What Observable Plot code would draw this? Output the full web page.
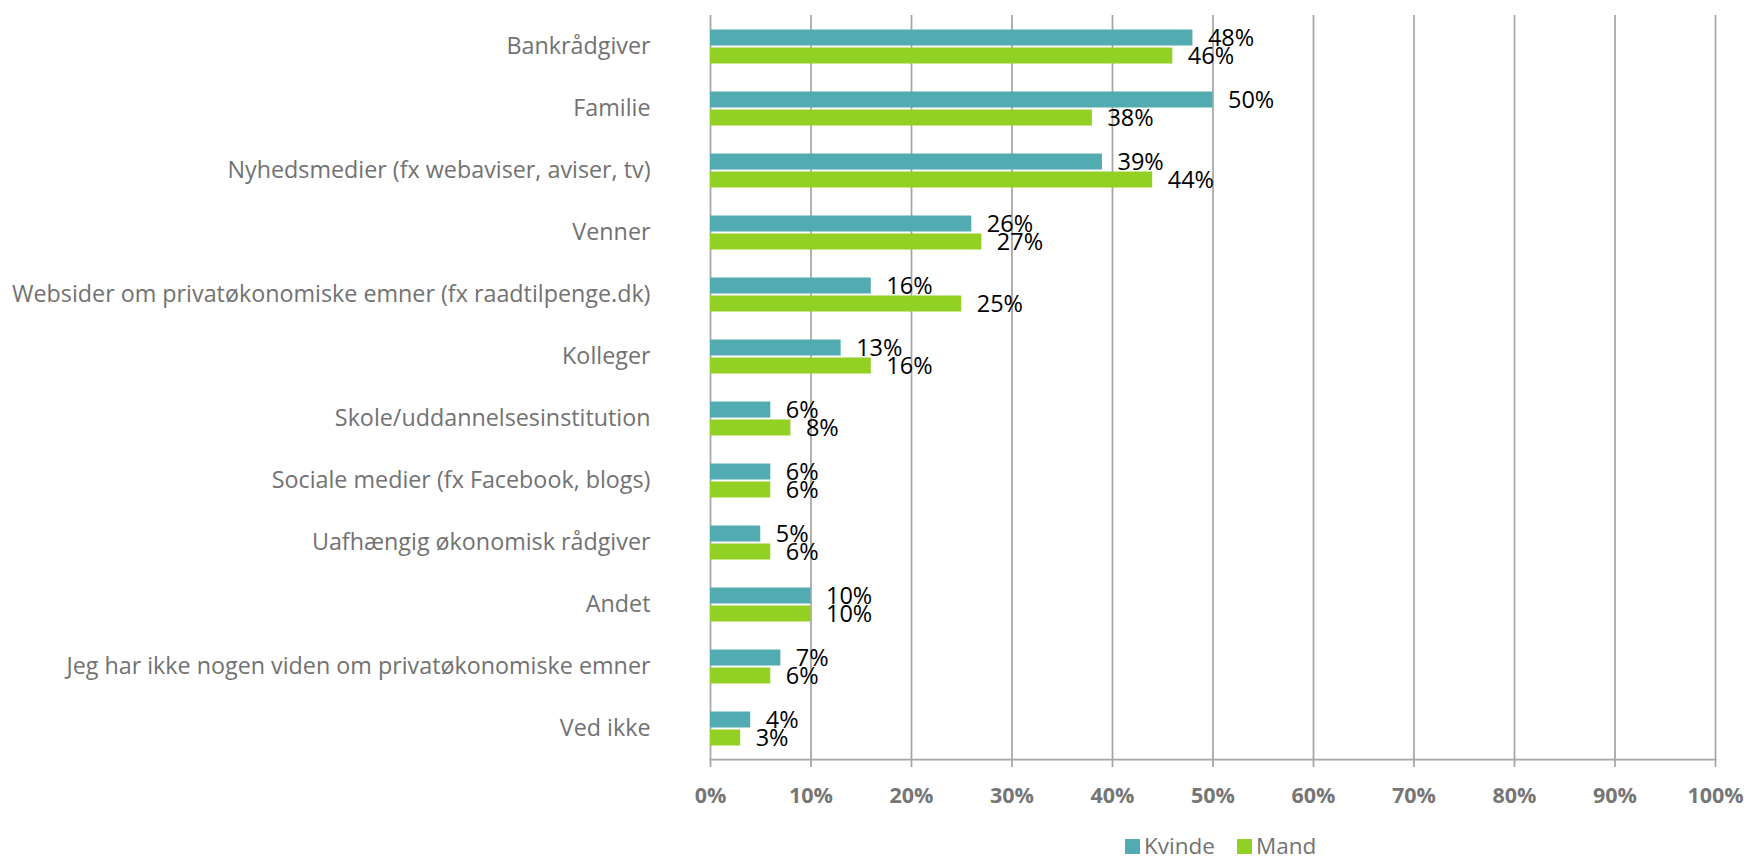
<!DOCTYPE html>
<html>
<head>
<meta charset="utf-8">
<script src="https://cdn.jsdelivr.net/npm/d3@7"></script>
<script src="https://cdn.jsdelivr.net/npm/@observablehq/plot@0.6"></script>
<style>
  body { margin: 0; background: #fff; font-family: "Open Sans", sans-serif; }
  #wrap { position: relative; width: 1749px; height: 861px; overflow: hidden; }
  #legend { position: absolute; left: 1125px; top: 836px; height: 20px; line-height: 20px; display: flex; align-items: center; font-size: 22.5px; color: #727272; }
  #legend .sw { width: 15px; height: 15px; display: inline-block; margin-right: 4px; }
  #legend .item { display: flex; align-items: center; margin-right: 22px; }
</style>
</head>
<body>
<div id="wrap"><div id="chart"></div><div id="legend"></div></div>
<script>
const categories = [
  "Bankrådgiver",
  "Familie",
  "Nyhedsmedier (fx webaviser, aviser, tv)",
  "Venner",
  "Websider om privatøkonomiske emner (fx raadtilpenge.dk)",
  "Kolleger",
  "Skole/uddannelsesinstitution",
  "Sociale medier (fx Facebook, blogs)",
  "Uafhængig økonomisk rådgiver",
  "Andet",
  "Jeg har ikke nogen viden om privatøkonomiske emner",
  "Ved ikke"
];
const kvinde = [48, 50, 39, 26, 16, 13, 6, 6, 5, 10, 7, 4];
const mand   = [46, 38, 44, 27, 25, 16, 8, 6, 6, 10, 6, 3];
const genders = ["Kvinde", "Mand"];
const colors = ["#52abb0", "#92d024"];
const xTicks = [0, 0.1, 0.2, 0.3, 0.4, 0.5, 0.6, 0.7, 0.8, 0.9, 1.0];

const data = categories.flatMap((c, i) => [
  {cat: c, gender: "Kvinde", value: kvinde[i] / 100},
  {cat: c, gender: "Mand", value: mand[i] / 100}
]);

const pct = d => Math.round(d * 100) + "%";

const chart = Plot.plot({
  width: 1749,
  height: 830,
  marginLeft: 710,
  marginRight: 34,
  marginTop: 13.5,
  marginBottom: 70,
  style: {fontFamily: "'Open Sans', sans-serif", background: "white"},
  x: {domain: [0, 1]},
  fy: {domain: categories, paddingInner: 0, paddingOuter: 0, label: null},
  y: {domain: genders, paddingInner: 0.121, paddingOuter: 0.697, axis: null},
  color: {domain: genders, range: colors},
  marks: [
    Plot.gridX(xTicks, {stroke: "#a6a6a6", strokeOpacity: 1, strokeWidth: 1.75}),
    Plot.barX(data, {fy: "cat", y: "gender", x: "value", fill: "gender"}),
    Plot.text(data, {fy: "cat", y: "gender", x: "value", text: d => pct(d.value), dx: 15, textAnchor: "start", fill: "black", fontSize: 23.5}),
    Plot.frame({anchor: "bottom", facetAnchor: "bottom", stroke: "#a6a6a6", strokeWidth: 1.75}),
    Plot.axisX(xTicks, {tickFormat: pct, tickSize: 8, tickPadding: 20, stroke: "#a6a6a6", strokeWidth: 1.75, fill: "#767676", fontSize: 21.5, fontWeight: "bold", label: null}),
    Plot.axisFy({anchor: "left", tickSize: 0, tickPadding: 60, fontSize: 23.3, fill: "#727272", label: null})
  ]
});
document.getElementById("chart").appendChild(chart);

const legend = document.getElementById("legend");
genders.forEach((g, i) => {
  const item = document.createElement("span");
  item.className = "item";
  const sw = document.createElement("span");
  sw.className = "sw";
  sw.style.background = colors[i];
  item.appendChild(sw);
  item.appendChild(document.createTextNode(g));
  legend.appendChild(item);
});
</script>
</body>
</html>
